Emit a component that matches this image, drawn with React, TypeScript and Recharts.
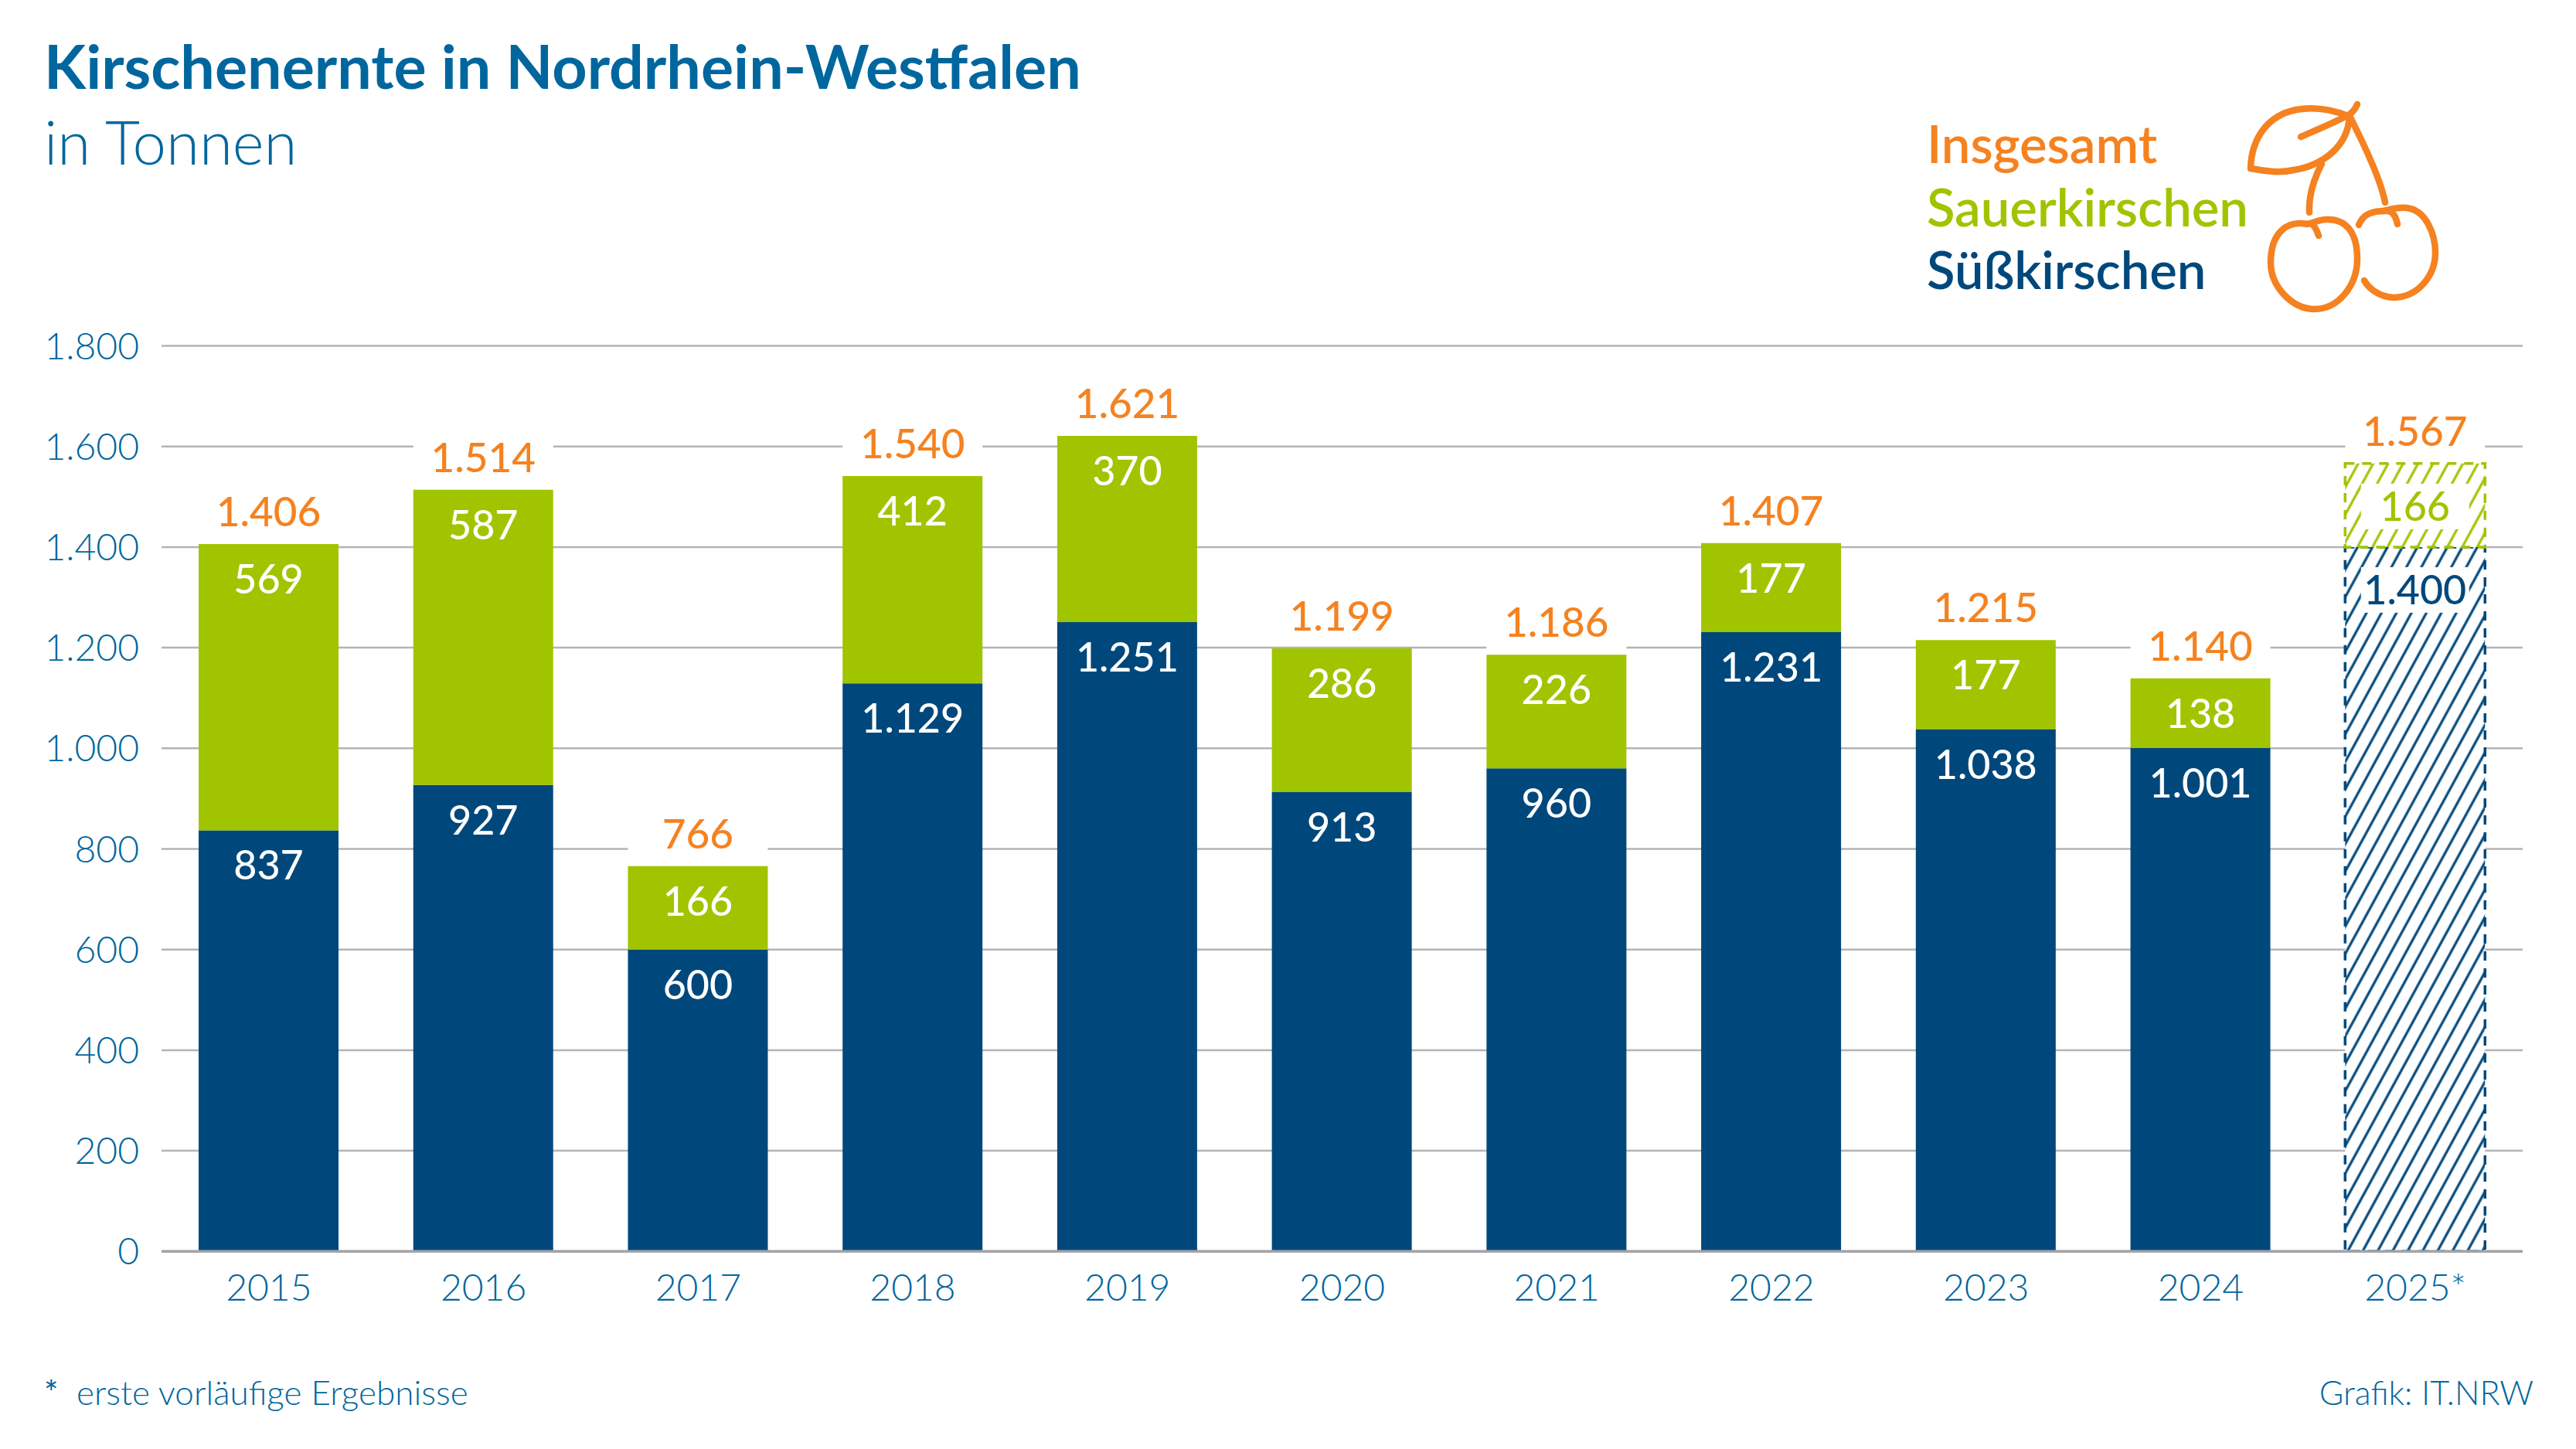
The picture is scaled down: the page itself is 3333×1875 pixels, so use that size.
import { BarChart, Bar, XAxis, YAxis, CartesianGrid, LabelList, Cell } from 'recharts'

const years = ['2015', '2016', '2017', '2018', '2019', '2020', '2021', '2022', '2023', '2024', '2025*']
const sweet = [837, 927, 600, 1129, 1251, 913, 960, 1231, 1038, 1001, 1400]
const sour = [569, 587, 166, 412, 370, 286, 226, 177, 177, 138, 166]
const totals = [1406, 1514, 766, 1540, 1621, 1199, 1186, 1407, 1215, 1140, 1567]
const yTicks = [0, 200, 400, 600, 800, 1000, 1200, 1400, 1600, 1800]

const BLUE = '#00669e'
const NAVY = '#00487c'
const GREEN = '#a0c400'
const ORANGE = '#f58220'
const FONT = 'Lato'
const LAST = years.length - 1

const chartData = years.map((year, i) => ({
  year,
  sweet: sweet[i],
  sour: sour[i],
  total: totals[i],
}))

const formatNumber = (num: number) => num.toLocaleString('de-DE')

const innerLabel = (color: string) => (props: any) => {
  const { x, y, width, value, index } = props
  const cx = x + width / 2
  const projected = index === LAST
  const cy = y + (projected ? 56 : 46)
  return (
    <g>
      {projected && <rect x={cx - 70} y={cy - 30} width={140} height={59} fill="#fff" />}
      <text
        x={cx}
        y={cy}
        dy={18}
        textAnchor="middle"
        fontFamily={FONT}
        fontWeight={500}
        fontSize={52}
        fill={projected ? color : '#fff'}
      >
        {formatNumber(value)}
      </text>
    </g>
  )
}

const totalLabel = (props: any) => {
  const { x, y, width, value } = props
  const cx = x + width / 2
  return (
    <g>
      <rect x={x} y={y - 72} width={width} height={68} fill="#fff" />
      <text
        x={cx}
        y={y - 41}
        dy={18}
        textAnchor="middle"
        fontFamily={FONT}
        fontWeight={500}
        fontSize={53}
        fill={ORANGE}
      >
        {formatNumber(value)}
      </text>
    </g>
  )
}

function Cherries() {
  return (
    <g fill="none" stroke={ORANGE} strokeWidth={8.5} strokeLinecap="round" strokeLinejoin="round">
      {/* leaf */}
      <path d="M3038 150 C3015 141 2993 138 2971 142 C2935 149 2913 178 2912 218 C2935 222 2950 224 2968 220 C3005 214 3038 190 3040 150 Z" />
      <path d="M2977 177 C3000 167 3022 158 3040 148 C3045 144 3048 140 3050 135" />
      {/* stems */}
      <path d="M3040 150 C3063 195 3081 235 3086 262" />
      <path d="M3004 212 C2992 235 2987 255 2988 275" />
      {/* left cherry */}
      <path d="M3000 305 C2995 290 2990 288 2985 290 C2960 285 2938 300 2938 340 C2938 370 2965 400 2995 400 C3025 400 3050 370 3050 335 C3050 300 3035 283 3010 284 C3000 284 2993 289 2985 290" />
      {/* right cherry */}
      <path d="M3052 291 C3057 278 3068 272 3090 273 C3098 275 3100 282 3102 290" />
      <path d="M3084 273 C3095 270 3105 268 3114 269 C3140 272 3151 305 3151 327 C3151 355 3130 385 3096 385 C3080 384 3066 375 3059 363" />
    </g>
  )
}

export default function App() {
  return (
    <div style={{ position: 'absolute', left: 0, top: 0, width: 3333, height: 1875, background: '#fff' }}>
      <BarChart
        width={3333}
        height={1875}
        data={chartData}
        margin={{ top: 447.5, right: 69, bottom: 155.7, left: 0 }}
        barCategoryGap={0}
      >
        <defs>
          <pattern id="hatch-navy" width={17} height={17} patternUnits="userSpaceOnUse" patternTransform="rotate(28.6)">
            <rect width={17} height={17} fill="#fff" />
            <line x1={8} y1={0} x2={8} y2={17} stroke={NAVY} strokeWidth={3.2} />
          </pattern>
          <pattern id="hatch-green" width={17} height={17} patternUnits="userSpaceOnUse" patternTransform="rotate(28.6)">
            <rect width={17} height={17} fill="#fff" />
            <line x1={8} y1={0} x2={8} y2={17} stroke={GREEN} strokeWidth={3.2} />
          </pattern>
        </defs>
        <CartesianGrid vertical={false} stroke="#b4b4b6" strokeWidth={2.5} />
        <XAxis
          dataKey="year"
          height={100}
          tickLine={false}
          tickSize={0}
          tickMargin={30}
          axisLine={{ stroke: '#a3a3a8', strokeWidth: 3.5 }}
          tick={{ fontFamily: FONT, fontSize: 48, fontWeight: 300, fill: BLUE }}
          interval={0}
        />
        <YAxis
          width={209}
          domain={[0, 1800]}
          ticks={yTicks}
          tickFormatter={formatNumber}
          axisLine={false}
          tickLine={false}
          tickSize={0}
          tickMargin={29}
          tick={{ fontFamily: FONT, fontSize: 48, fontWeight: 300, fill: BLUE }}
          interval={0}
        />
        <Bar dataKey="sweet" stackId="a" fill={NAVY} barSize={181} isAnimationActive={false}>
          {chartData.map((entry, index) => (
            <Cell
              key={entry.year}
              fill={index === LAST ? 'url(#hatch-navy)' : NAVY}
              stroke={index === LAST ? NAVY : 'none'}
              strokeWidth={index === LAST ? 3.5 : 0}
              strokeDasharray={index === LAST ? '12 10' : undefined}
            />
          ))}
          <LabelList dataKey="sweet" content={innerLabel(NAVY)} />
        </Bar>
        <Bar dataKey="sour" stackId="a" fill={GREEN} barSize={181} isAnimationActive={false}>
          {chartData.map((entry, index) => (
            <Cell
              key={entry.year}
              fill={index === LAST ? 'url(#hatch-green)' : GREEN}
              stroke={index === LAST ? GREEN : 'none'}
              strokeWidth={index === LAST ? 3.5 : 0}
              strokeDasharray={index === LAST ? '12 10' : undefined}
            />
          ))}
          <LabelList dataKey="sour" content={innerLabel(GREEN)} />
          <LabelList dataKey="total" content={totalLabel} />
        </Bar>

        {/* Title, legend, icon and notes */}
        <text x={57} y={115} fontFamily={FONT} fontWeight={700} fontSize={79} fill={BLUE}>
          Kirschenernte in Nordrhein-Westfalen
        </text>
        <text x={57} y={213} fontFamily={FONT} fontWeight={300} fontSize={78} fill={BLUE}>
          in Tonnen
        </text>
        <text x={2493} y={211} fontFamily={FONT} fontWeight={600} fontSize={67} fill={ORANGE}>
          Insgesamt
        </text>
        <text x={2493} y={293} fontFamily={FONT} fontWeight={600} fontSize={67} fill={GREEN}>
          Sauerkirschen
        </text>
        <text x={2493} y={374} fontFamily={FONT} fontWeight={600} fontSize={67} fill={NAVY}>
          Süßkirschen
        </text>
        <Cherries />
        <text x={57} y={1818} fontFamily={FONT} fontWeight={400} fontSize={43.5} fill={BLUE}>
          *
        </text>
        <text x={99} y={1818} fontFamily={FONT} fontWeight={300} fontSize={44} fill={BLUE}>
          erste vorläufige Ergebnisse
        </text>
        <text x={3278} y={1818} textAnchor="end" fontFamily={FONT} fontWeight={300} fontSize={43} fill={BLUE}>
          Grafik: IT.NRW
        </text>
      </BarChart>
    </div>
  )
}
